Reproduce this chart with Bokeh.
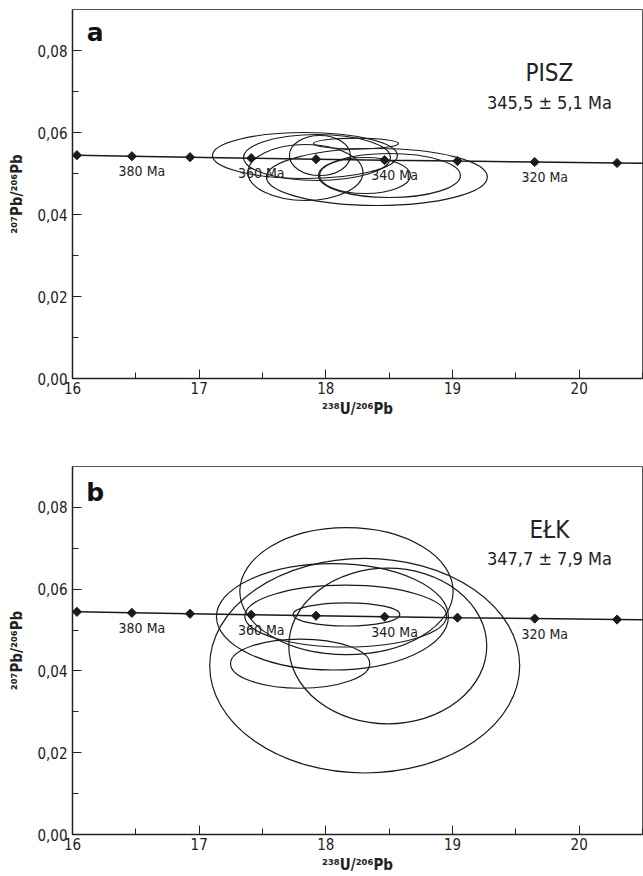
import numpy as np
from bokeh.plotting import figure
from bokeh.layouts import column
from bokeh.models import FixedTicker, CustomJSTickFormatter, Label, Range1d
from bokeh.core.properties import value
from bokeh.embed import file_html
from bokeh.resources import INLINE

FONT = "Liberation Sans Narrow, DejaVu Sans Condensed, Arial Narrow, sans-serif"

# ---- axes ----
x_major = [16, 17, 18, 19, 20]
x_minor = [16.5, 17.5, 18.5, 19.5, 20.5]
y_major = [0.0, 0.02, 0.04, 0.06, 0.08]
y_minor = [0.01, 0.03, 0.05, 0.07]

# ---- concordia (Tera-Wasserburg) points, every 10 Ma ----
conc_age = [390, 380, 370, 360, 350, 340, 330, 320, 310]
conc_x = [16.035, 16.469, 16.928, 17.411, 17.923, 18.464, 19.039, 19.649, 20.299]
conc_y = [0.05446, 0.05421, 0.05398, 0.05374, 0.05350, 0.05326, 0.05303, 0.05280, 0.05256]
line_x = conc_x + [20.992]
line_y = conc_y + [0.05233]
lab_text = ["380 Ma", "360 Ma", "340 Ma", "320 Ma"]
lab_x = [16.469, 17.411, 18.464, 19.649]
lab_y = [0.05421, 0.05374, 0.05326, 0.05280]

# ---- PISZ error ellipses ----
pisz_x = [17.835, 18.238, 17.930, 17.953, 17.839, 18.403, 18.502, 18.309]
pisz_y = [0.05439, 0.05732, 0.05390, 0.05439, 0.05024, 0.04915, 0.04951, 0.04951]
pisz_w = [1.460, 0.671, 1.160, 0.481, 0.908, 1.744, 1.121, 0.718]
pisz_h = [0.01122, 0.00259, 0.01122, 0.00976, 0.01366, 0.01390, 0.01073, 0.00878]

# ---- EŁK error ellipses ----
elk_x = [18.307, 18.489, 18.163, 18.052, 18.157, 18.163, 17.797]
elk_y = [0.04129, 0.04610, 0.05951, 0.05324, 0.05341, 0.05383, 0.04178]
elk_w = [2.447, 1.563, 1.684, 1.831, 1.594, 0.842, 1.099]
elk_h = [0.05251, 0.03805, 0.03105, 0.02602, 0.01512, 0.00568, 0.01202]

panels = [
    dict(letter="a", ly=0.0844, name="PISZ", age="345,5 ± 5,1 Ma",
         ex=pisz_x, ey=pisz_y, ew=pisz_w, eh=pisz_h, height=458, top=9, bottom=80),
    dict(letter="b", ly=0.0836, name="EŁK", age="347,7 ± 7,9 Ma",
         ex=elk_x, ey=elk_y, ew=elk_w, eh=elk_h, height=418, top=8, bottom=41),
]

figs = []
for pn in panels:
    p = figure(width=643, height=pn["height"], output_backend="svg", toolbar_location=None,
               x_range=Range1d(16, 20.5), y_range=Range1d(0, 0.09),
               min_border_left=72, min_border_right=1, min_border_top=pn["top"],
               min_border_bottom=pn["bottom"])
    p.grid.visible = False
    p.outline_line_color = "#555555"
    p.outline_line_width = 1
    p.background_fill_color = "white"
    p.border_fill_color = "white"

    for ax in (p.xaxis[0], p.yaxis[0]):
        ax.axis_line_color = "#222222"
        ax.axis_line_width = 1.5
        ax.major_tick_in = 9
        ax.major_tick_out = 0
        ax.minor_tick_in = 6
        ax.minor_tick_out = 0
        ax.major_tick_line_color = "#222222"
        ax.minor_tick_line_color = "#222222"
        ax.major_label_text_font = FONT
        ax.major_label_text_font_size = "15px"
        ax.major_label_text_color = "#222222"
        ax.axis_label_text_font = FONT
        ax.axis_label_text_font_style = "bold"
        ax.axis_label_text_font_size = "15px"
        ax.axis_label_text_color = "#222222"

    p.xaxis[0].ticker = FixedTicker(ticks=x_major, minor_ticks=x_minor)
    p.yaxis[0].ticker = FixedTicker(ticks=y_major, minor_ticks=y_minor)
    p.xaxis[0].formatter = CustomJSTickFormatter(code="return tick.toFixed(0);")
    p.yaxis[0].formatter = CustomJSTickFormatter(code="return tick.toFixed(2).replace('.', ',');")
    p.xaxis[0].major_label_standoff = 3
    p.xaxis[0].axis_label_standoff = 3
    p.yaxis[0].major_label_standoff = 5
    p.yaxis[0].axis_label_standoff = 8
    p.xaxis[0].axis_label = "²³⁸U/²⁰⁶Pb"
    p.yaxis[0].axis_label = "²⁰⁷Pb/²⁰⁶Pb"

    # error ellipses
    p.ellipse(x=pn["ex"], y=pn["ey"], width=pn["ew"], height=pn["eh"],
              fill_color=None, line_color="#1a1a1a", line_width=1.2)

    # concordia
    p.line(line_x, line_y, line_color="#1a1a1a", line_width=1.5)
    p.scatter(conc_x, conc_y, marker="square", angle=np.pi / 4, size=6.5,
              fill_color="#1a1a1a", line_color="#1a1a1a")
    p.text(x=lab_x, y=lab_y, text=lab_text, x_offset=10, y_offset=15,
           text_align="center", text_baseline="middle",
           text_font=value(FONT), text_font_size="14px", text_color="#222222")

    p.add_layout(Label(x=16.18, y=pn["ly"], text=pn["letter"], text_align="center",
                       text_baseline="middle", text_font="DejaVu Sans",
                       text_font_style="bold", text_font_size="25px", text_color="#111111"))
    p.add_layout(Label(x=19.765, y=0.0744, text=pn["name"], text_align="center",
                       text_baseline="middle", text_font=FONT,
                       text_font_size="24px", text_color="#222222"))
    p.add_layout(Label(x=19.765, y=0.0673 if pn["letter"] == "a" else 0.0676, text=pn["age"],
                       text_align="center", text_baseline="middle", text_font=FONT,
                       text_font_size="18px", text_color="#222222"))
    figs.append(p)

layout = column(*figs, spacing=0)
open("out.html", "w").write(file_html(layout, INLINE))
